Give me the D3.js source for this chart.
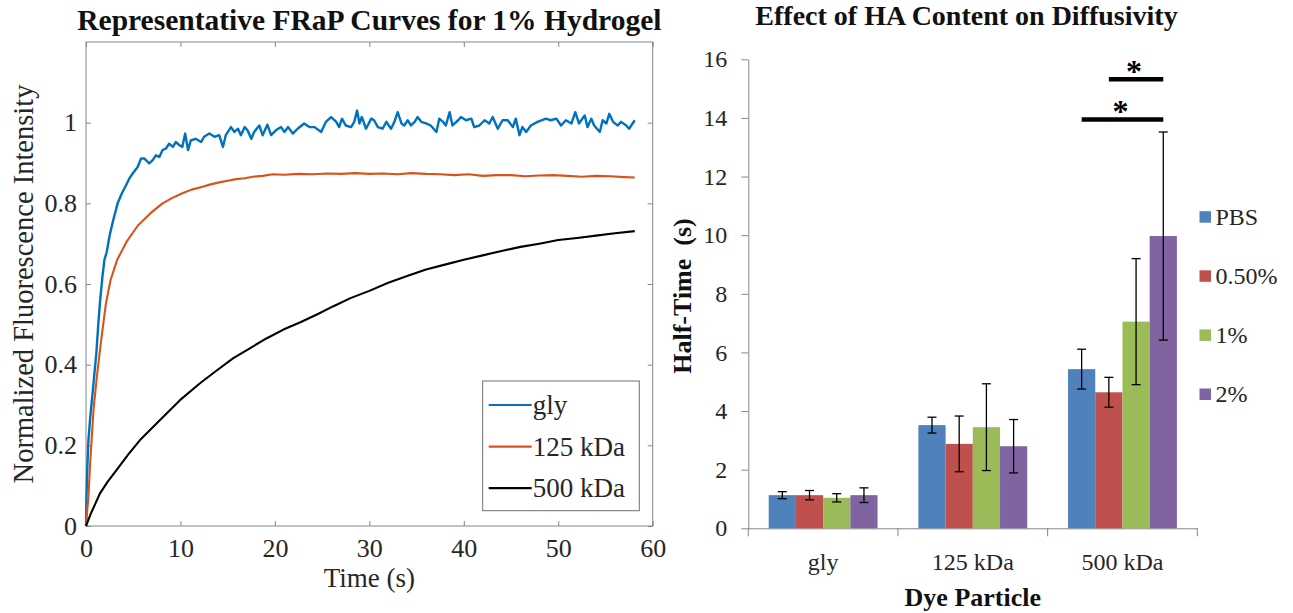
<!DOCTYPE html>
<html>
<head>
<meta charset="utf-8">
<script src="https://cdn.jsdelivr.net/npm/d3@7"></script>
<style>
  body { margin: 0; background: #fff; }
  svg text { font-family: "Liberation Serif", "Times New Roman", serif; }
</style>
</head>
<body>
<svg id="chart" width="1293" height="613"></svg>
<script>
// ---- left panel data (time in s, normalized intensity) ----
const glyCurve = [[0,0],[0.05,0.07],[0.15,0.15],[0.25,0.21],[0.45,0.27],[0.7,0.33],[0.9,0.38],[1.1,0.43],[1.3,0.5],[1.5,0.56],[1.75,0.62],[1.95,0.66],[2.2,0.68],[2.5,0.72],[2.9,0.76],[3.35,0.8],[3.8,0.825],[4.24,0.845],[4.6,0.862],[4.94,0.874],[5.47,0.89],[5.82,0.911],[6.18,0.911],[6.7,0.899],[7.06,0.907],[7.4,0.919],[7.77,0.915],[8.1,0.932],[8.47,0.936],[8.8,0.948],[9.2,0.94],[9.5,0.952],[9.9,0.944],[10.2,0.94],[10.5,0.973],[10.8,0.932],[11.1,0.956],[11.6,0.96],[12.2,0.952],[12.5,0.965],[13.06,0.973],[13.6,0.965],[14.1,0.969],[14.5,0.94],[14.8,0.969],[15.35,0.989],[15.7,0.977],[16.1,0.985],[16.4,0.969],[16.8,0.989],[17.1,0.981],[17.5,0.96],[17.8,0.977],[18.35,0.993],[18.7,0.969],[19.2,0.995],[19.6,0.969],[20.1,0.981],[20.65,0.989],[21.0,0.977],[21.4,0.989],[21.9,0.973],[22.4,0.985],[23.1,0.998],[23.65,0.989],[24.2,0.989],[24.9,0.977],[25.4,1.002],[25.95,1.014],[26.5,1.002],[26.8,0.989],[27.1,1.01],[27.5,0.993],[28.06,0.989],[28.4,1.002],[28.7,1.03],[28.95,0.998],[29.2,1.014],[29.65,0.985],[30.2,1.01],[30.5,1.006],[30.9,0.989],[31.4,0.985],[31.8,1.002],[32.3,0.985],[32.65,1.002],[33.0,1.026],[33.4,0.998],[33.7,0.993],[34.06,1.006],[34.4,0.993],[34.8,1.002],[35.1,1.014],[35.5,1.002],[36.0,0.998],[36.5,0.993],[37.1,0.977],[37.4,1.01],[37.8,1.002],[38.1,0.993],[38.5,1.026],[38.8,0.993],[39.4,1.006],[39.7,1.014],[40.24,1.006],[40.8,1.01],[41.1,0.989],[41.65,0.993],[42.2,1.006],[42.7,0.998],[43.06,1.014],[43.6,0.985],[44.1,1.006],[44.65,1.006],[45.2,0.989],[45.5,1.01],[45.9,0.969],[46.2,0.989],[46.6,0.977],[47.1,0.993],[47.8,1.002],[48.7,1.01],[49.2,1.006],[49.8,1.01],[50.3,0.993],[50.8,1.006],[51.4,0.998],[51.8,1.026],[52.2,0.998],[52.8,1.018],[53.1,0.989],[53.5,1.01],[53.8,0.993],[54.4,0.977],[54.7,1.006],[55.1,0.998],[55.4,1.022],[55.8,1.002],[56.3,0.993],[56.65,1.002],[57.2,0.993],[57.5,0.985],[58.1,1.006]];
const kda125Curve = [[0,0],[0.1,0.03],[0.25,0.07],[0.45,0.16],[0.8,0.29],[1.15,0.37],[1.55,0.45],[2.1,0.55],[2.6,0.61],[3.3,0.66],[4.3,0.705],[5.5,0.745],[6.8,0.775],[8.1,0.8],[9.1,0.813],[10.2,0.825],[11.2,0.834],[12.35,0.841],[13.2,0.847],[14.1,0.852],[15.0,0.856],[15.9,0.86],[16.8,0.862],[17.65,0.866],[18.7,0.868],[19.8,0.872],[21,0.871],[22.5,0.873],[24,0.872],[25.5,0.874],[27,0.873],[28.5,0.875],[30,0.873],[31.5,0.874],[33,0.872],[34.5,0.875],[36,0.873],[37.5,0.872],[39,0.87],[40.5,0.872],[42,0.868],[43.5,0.87],[45,0.87],[46.5,0.867],[48,0.869],[49.5,0.87],[51,0.868],[52.5,0.866],[54,0.868],[55.5,0.867],[57,0.865],[58.1,0.864]];
const kda500Curve = [[0,0],[0.5,0.03],[1.48,0.081],[2.3,0.11],[3.25,0.139],[4.5,0.178],[5.72,0.213],[7.84,0.263],[9.95,0.312],[12.07,0.354],[13.8,0.385],[15.6,0.416],[17.3,0.44],[19.1,0.465],[20.9,0.487],[22.7,0.505],[24.5,0.525],[26.2,0.545],[28,0.565],[30,0.583],[32,0.603],[34,0.62],[36,0.636],[38,0.648],[40,0.66],[42,0.671],[44,0.682],[46,0.692],[48,0.7],[50,0.709],[52,0.714],[54,0.72],[56,0.726],[58.1,0.731]];
const curveNames = ['gly', '125 kDa', '500 kDa'];
const timeTicks = [0, 10, 20, 30, 40, 50, 60];
const intensityTicks = [0, 0.2, 0.4, 0.6, 0.8, 1];

// ---- right panel data (half-time in s) ----
const particles = ['gly', '125 kDa', '500 kDa'];
const concentrations = ['PBS', '0.50%', '1%', '2%'];
const pbsMean = [1.13, 3.52, 5.43];
const pbsErr = [0.12, 0.27, 0.68];
const halfMean = [1.13, 2.88, 4.64];
const halfErr = [0.16, 0.95, 0.51];
const oneMean = [1.04, 3.45, 7.05];
const oneErr = [0.14, 1.48, 2.15];
const twoMean = [1.13, 2.8, 9.97];
const twoErr = [0.25, 0.91, 3.55];
const halfTimeTicks = [0, 2, 4, 6, 8, 10, 12, 14, 16];
// significance bars in the 500 kDa group: [from, to, height]
const sigBars = [['PBS', '2%', 13.95], ['0.50%', '2%', 15.32]];

const lineColors = ['#0072BD', '#D95319', '#000000'];
const barColors = ['#4F81BD', '#C0504D', '#9BBB59', '#8064A2'];
const axisGray = '#868686';
const textColor = '#262626';
const serif = '"Liberation Serif", "Times New Roman", serif';

const svg = d3.select('#chart');

// ================= left: FRaP curves =================
const xL = d3.scaleLinear().domain([0, 60]).range([86, 652.7]);
const yL = d3.scaleLinear().domain([0, 1.2]).range([526, 42]);
const left = svg.append('g');

function styleAxis(g, size) {
    g.attr('font-family', serif);
    g.select('.domain').remove();
    g.selectAll('.tick line').attr('stroke', axisGray);
    g.selectAll('.tick text')
        .attr('fill', textColor)
        .style('font-family', serif)
        .style('font-size', size + 'px');
}

left.append('g')
    .attr('transform', `translate(0,${yL(0)})`)
    .call(d3.axisBottom(xL).tickValues(timeTicks).tickSizeInner(-5).tickSizeOuter(0).tickPadding(13))
    .call(g => styleAxis(g, 26));
left.append('g')
    .attr('transform', `translate(0,${yL(1.2)})`)
    .call(d3.axisTop(xL).tickValues(timeTicks).tickSizeInner(-5).tickSizeOuter(0).tickFormat(''))
    .call(g => styleAxis(g, 26));
left.append('g')
    .attr('transform', `translate(${xL(0)},0)`)
    .call(d3.axisLeft(yL).tickValues(intensityTicks).tickSizeInner(-5).tickSizeOuter(0).tickPadding(9)
        .tickFormat(d => String(+d.toFixed(1))))
    .call(g => styleAxis(g, 26));
left.append('g')
    .attr('transform', `translate(${xL(60)},0)`)
    .call(d3.axisRight(yL).tickValues(intensityTicks).tickSizeInner(-5).tickSizeOuter(0).tickFormat(''))
    .call(g => styleAxis(g, 26));

left.append('rect')
    .attr('x', xL(0)).attr('y', yL(1.2))
    .attr('width', xL(60) - xL(0)).attr('height', yL(0) - yL(1.2))
    .attr('fill', 'none').attr('stroke', axisGray);

const line = d3.line().x(d => xL(d[0])).y(d => yL(d[1]));
[glyCurve, kda125Curve, kda500Curve].forEach((curve, i) => {
    left.append('path')
        .datum(curve)
        .attr('d', line)
        .attr('fill', 'none')
        .attr('stroke', lineColors[i])
        .attr('stroke-width', i === 0 ? 2.4 : 2.1)
        .attr('stroke-linejoin', 'round');
});

// legend
const legL = left.append('g').attr('transform', 'translate(482.7,381)');
legL.append('rect').attr('width', 156.6).attr('height', 129.7)
    .attr('fill', '#fff').attr('stroke', '#707070');
curveNames.forEach((name, i) => {
    const cy = 24 + i * 41.6;
    legL.append('line').attr('x1', 6).attr('x2', 49).attr('y1', cy).attr('y2', cy)
        .attr('stroke', lineColors[i]).attr('stroke-width', 2.2);
    legL.append('text').attr('x', 50).attr('y', cy + 9)
        .attr('fill', textColor).style('font-family', serif).style('font-size', '27px').text(name);
});

left.append('text')
    .attr('x', (xL(0) + xL(60)) / 2).attr('y', 30)
    .attr('text-anchor', 'middle').style('font-family', serif).style('font-size', '29.5px').style('font-weight', 'bold')
    .attr('fill', '#111').text('Representative FRaP Curves for 1% Hydrogel');
left.append('text')
    .attr('x', (xL(0) + xL(60)) / 2).attr('y', 587)
    .attr('text-anchor', 'middle').style('font-family', serif).style('font-size', '27px')
    .attr('fill', textColor).text('Time (s)');
left.append('text')
    .attr('transform', `translate(33,${(yL(0) + yL(1.2)) / 2}) rotate(-90)`)
    .attr('text-anchor', 'middle').style('font-family', serif).style('font-size', '28.5px')
    .attr('fill', textColor).text('Normalized Fluorescence Intensity');

// ================= right: half-time bars =================
const series = [
    { name: concentrations[0], mean: pbsMean, err: pbsErr },
    { name: concentrations[1], mean: halfMean, err: halfErr },
    { name: concentrations[2], mean: oneMean, err: oneErr },
    { name: concentrations[3], mean: twoMean, err: twoErr }
];
const yR = d3.scaleLinear().domain([0, 16]).range([528.3, 59.3]);
const xR = d3.scaleBand().domain(particles).range([748.3, 1197.3]);
const xIn = d3.scaleBand().domain(concentrations).range([0, xR.bandwidth()]).paddingOuter(0.75);
const color = d3.scaleOrdinal().domain(concentrations).range(barColors);
const right = svg.append('g');

right.append('g')
    .attr('transform', `translate(${xR.range()[0]},0)`)
    .call(d3.axisLeft(yR).tickValues(halfTimeTicks).tickSizeInner(7).tickSizeOuter(0).tickPadding(14))
    .call(g => {
        g.select('.domain').attr('stroke', axisGray);
        g.selectAll('.tick line').attr('stroke', axisGray);
        g.selectAll('.tick text').attr('fill', textColor)
            .style('font-family', serif).style('font-size', '24px');
    });

right.append('g')
    .attr('transform', `translate(0,${yR(0)})`)
    .call(d3.axisBottom(xR).tickSize(0).tickPadding(25))
    .call(g => {
        g.select('.domain').attr('stroke', axisGray);
        g.selectAll('.tick text').attr('fill', textColor)
            .style('font-family', serif).style('font-size', '24px');
    });

const boundaries = particles.map(p => xR(p)).concat([xR.range()[1]]);
right.selectAll('line.sep')
    .data(boundaries)
    .join('line')
    .attr('class', 'sep')
    .attr('x1', d => d).attr('x2', d => d)
    .attr('y1', yR(0)).attr('y2', yR(0) + 8)
    .attr('stroke', axisGray);

const groups = right.selectAll('g.group')
    .data(particles)
    .join('g')
    .attr('class', 'group')
    .attr('transform', p => `translate(${xR(p)},0)`);

groups.each(function drawGroup(p, pi) {
    const g = d3.select(this);
    const cells = series.map(s => ({ name: s.name, v: s.mean[pi], e: s.err[pi] }));
    g.selectAll('rect')
        .data(cells)
        .join('rect')
        .attr('x', d => xIn(d.name))
        .attr('y', d => yR(d.v))
        .attr('width', xIn.bandwidth())
        .attr('height', d => yR(0) - yR(d.v))
        .attr('fill', d => color(d.name));
    const eb = g.selectAll('g.err').data(cells).join('g').attr('class', 'err')
        .attr('stroke', '#000').attr('stroke-width', 1.3);
    const cx = d => xIn(d.name) + xIn.bandwidth() / 2;
    eb.append('line').attr('x1', cx).attr('x2', cx)
        .attr('y1', d => yR(d.v + d.e)).attr('y2', d => yR(d.v - d.e));
    [1, -1].forEach(sign => {
        eb.append('line')
            .attr('x1', d => cx(d) - 4.5).attr('x2', d => cx(d) + 4.5)
            .attr('y1', d => yR(d.v + sign * d.e)).attr('y2', d => yR(d.v + sign * d.e));
    });
});

// significance bars
const sigGroup = right.append('g').attr('transform', `translate(${xR('500 kDa')},0)`);
sigBars.forEach(([a, b, h]) => {
    const x1 = xIn(a) + xIn.bandwidth() / 2;
    const x2 = xIn(b) + xIn.bandwidth() / 2;
    sigGroup.append('line')
        .attr('x1', x1).attr('x2', x2).attr('y1', yR(h)).attr('y2', yR(h))
        .attr('stroke', '#000').attr('stroke-width', 4.5);
    sigGroup.append('text')
        .attr('x', (x1 + x2) / 2 - 2).attr('y', yR(h) + 3)
        .attr('text-anchor', 'middle').style('font-family', serif)
        .style('font-size', '32px').style('font-weight', 'bold')
        .text('*');
});

// legend
const legR = right.append('g').attr('transform', 'translate(1199.5,216.7)');
concentrations.forEach((c, i) => {
    const cy = i * 59.1;
    legR.append('rect').attr('x', 0).attr('y', cy - 5.5).attr('width', 11.5).attr('height', 11.5)
        .attr('fill', color(c));
    legR.append('text').attr('x', 16).attr('y', cy + 8.5)
        .attr('fill', textColor).style('font-family', serif).style('font-size', '24px').text(c);
});

right.append('text')
    .attr('x', 966.5).attr('y', 25)
    .attr('text-anchor', 'middle').style('font-family', serif).style('font-size', '28px').style('font-weight', 'bold')
    .attr('fill', '#111').text('Effect of HA Content on Diffusivity');
right.append('text')
    .attr('x', (xR.range()[0] + xR.range()[1]) / 2).attr('y', 606)
    .attr('text-anchor', 'middle').style('font-family', serif).style('font-size', '26px').style('font-weight', 'bold')
    .attr('fill', '#111').text('Dye Particle');
right.append('text')
    .attr('transform', `translate(691,296) rotate(-90)`)
    .attr('text-anchor', 'middle').style('font-family', serif).style('font-size', '26px').style('font-weight', 'bold')
    .style('white-space', 'pre')
    .attr('fill', '#111').text('Half-Time  (s)');
</script>
</body>
</html>
